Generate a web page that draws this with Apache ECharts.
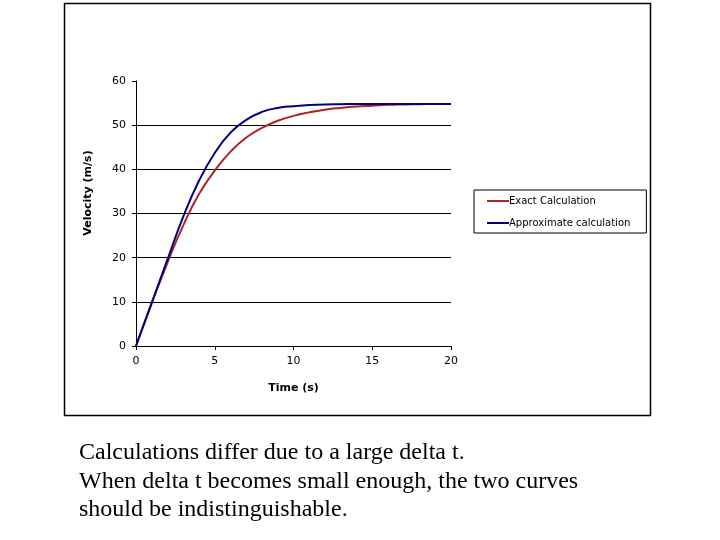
<!DOCTYPE html>
<html>
<head>
<meta charset="utf-8">
<script src="https://cdn.jsdelivr.net/npm/echarts@6/dist/echarts.min.js"></script>
<style>
  html, body { margin: 0; padding: 0; background: #fff; }
  #chart { width: 720px; height: 540px; }
</style>
</head>
<body>
<div id="chart"></div>
<script>
// 时间 (s)
var times = [0, 1, 2, 3, 4, 5, 6, 7, 8, 9, 10, 11, 12, 13, 14, 15, 16, 17, 18, 19, 20]
// 精确解
var exactValues = [0, 9.7, 18.9, 27.3, 34.4, 39.7, 44.0, 47.2, 49.4, 51.0, 52.1, 52.9, 53.5, 53.9, 54.2, 54.4, 54.6, 54.7, 54.75, 54.8, 54.8]
// 近似解
var approxValues = [0, 9.8, 19.6, 29.3, 37.4, 43.7, 48.3, 51.2, 53.0, 53.9, 54.3, 54.55, 54.7, 54.75, 54.8, 54.8, 54.8, 54.8, 54.8, 54.8, 54.8]
var seriesNames = ["Exact Calculation", "Approximate calculation"]
var yTitle = "Velocity (m/s)"
var captionLines = [
  "Calculations differ due to a large delta t.",
  "When delta t becomes small enough, the two curves",
  "should be indistinguishable."
]

function pairs(values) {
  return times.map(function (t, i) { return [t, values[i]] })
}

var chart = echarts.init(document.getElementById("chart"))

var captionText = captionLines.map(function (line, i) {
  return {
    type: "text",
    left: 79,
    top: 441 + i * 28.5,
    style: {
      text: line,
      font: "24px 'Liberation Serif'",
      fill: "#000"
    }
  }
})

var option = {
  backgroundColor: "#fff",
  animation: false,
  textStyle: { fontFamily: "DejaVu Sans" },
  grid: { left: 136, top: 81, width: 315, height: 265, containLabel: false },
  xAxis: {
    type: "value",
    min: 0, max: 20, interval: 5,
    name: "Time (s)",
    nameLocation: "middle",
    nameGap: 37,
    nameTextStyle: { color: "#000", fontSize: 11, fontWeight: "bold" },
    axisLine: { lineStyle: { color: "#000", width: 1 } },
    axisTick: { show: true, length: 4, lineStyle: { color: "#000" } },
    axisLabel: { color: "#000", fontSize: 11, margin: 10 },
    splitLine: { show: false }
  },
  yAxis: {
    type: "value",
    min: 0, max: 60, interval: 10,
    axisLine: { show: true, lineStyle: { color: "#000", width: 1 } },
    axisTick: { show: true, length: 4, lineStyle: { color: "#000" } },
    axisLabel: { color: "#000", fontSize: 11, margin: 10 },
    splitLine: { show: true, showMinLine: false, showMaxLine: false, lineStyle: { color: "#000", width: 1 } }
  },
  legend: {
    orient: "vertical",
    left: 474,
    top: 190,
    padding: [6, 16, 5, 13],
    itemGap: 12,
    itemWidth: 22,
    itemHeight: 2,
    icon: "rect",
    borderColor: "#000",
    borderWidth: 1,
    backgroundColor: "#fff",
    textStyle: { color: "#000", fontSize: 10, padding: [0, 0, 0, -5] },
    data: seriesNames
  },
  series: [
    {
      name: seriesNames[0],
      type: "line",
      data: pairs(exactValues),
      smooth: 0.5,
      showSymbol: false,
      symbol: "none",
      lineStyle: { color: "#b22222", width: 2 },
      itemStyle: { color: "#b22222" }
    },
    {
      name: seriesNames[1],
      type: "line",
      data: pairs(approxValues),
      smooth: 0.5,
      showSymbol: false,
      symbol: "none",
      lineStyle: { color: "#000080", width: 2 },
      itemStyle: { color: "#000080" }
    }
  ],
  graphic: [
    {
      type: "rect",
      shape: { x: 64.5, y: 3.5, width: 586, height: 412 },
      style: { fill: "none", stroke: "#000", lineWidth: 1.5 },
      silent: true
    },
    {
      type: "text",
      x: 88,
      y: 193,
      rotation: Math.PI / 2,
      style: {
        text: yTitle,
        font: "bold 11px 'DejaVu Sans'",
        fill: "#000",
        align: "center",
        verticalAlign: "middle"
      },
      silent: true
    }
  ].concat(captionText)
}

chart.setOption(option)
</script>
</body>
</html>
